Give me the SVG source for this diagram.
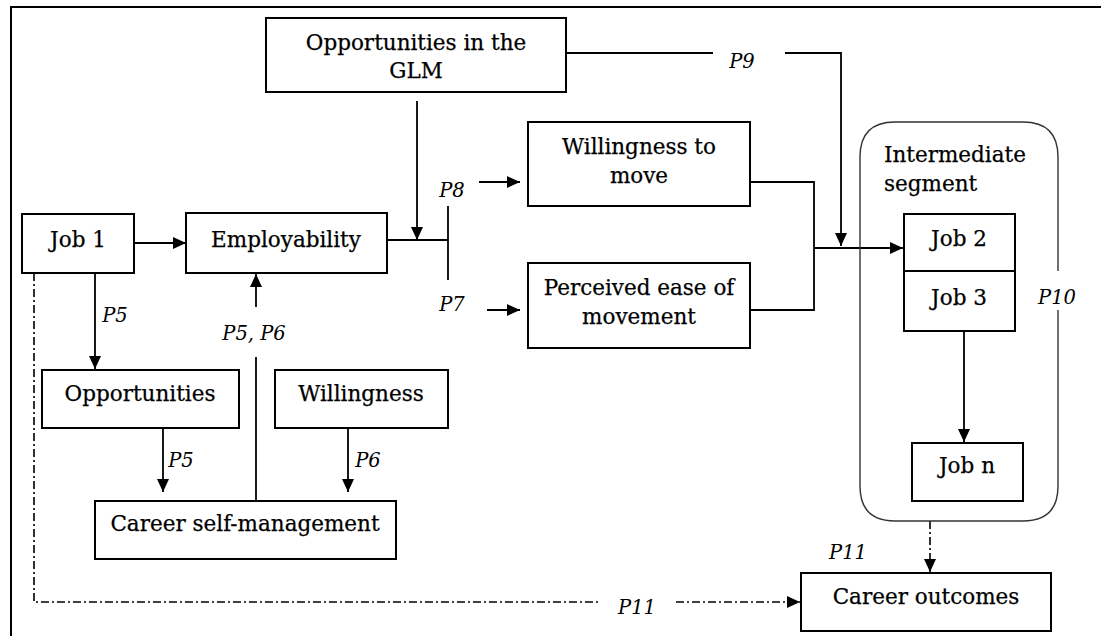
<svg xmlns="http://www.w3.org/2000/svg" width="1101" height="636" viewBox="0 0 1101 636">
<defs>
<marker id="ah" markerUnits="userSpaceOnUse" markerWidth="14" markerHeight="13" refX="13" refY="6.5" orient="auto">
<path d="M0,0.5 L13,6.5 L0,12.5 z" fill="#000"/>
</marker>
<style>
.box{fill:#fff;stroke:#000;stroke-width:2}
.t{font-family:"DejaVu Serif","Liberation Serif",serif;font-size:21.5px;fill:#000;text-anchor:middle;stroke:#000;stroke-width:0.25}
.l{font-family:"DejaVu Serif","Liberation Serif",serif;font-size:19.5px;font-style:italic;fill:#000;text-anchor:middle}
.c{fill:none;stroke:#000;stroke-width:1.8}
.a{marker-end:url(#ah)}
.dd{fill:none;stroke:#000;stroke-width:1.6;stroke-dasharray:8 3 2 3}
</style>
</defs>
<rect width="1101" height="636" fill="#fff"/>
<path d="M11,636 L11,7 L1101,7" fill="none" stroke="#000" stroke-width="2"/>

<g id="connectors">
<path class="c a" d="M134,243 L186,243"/>
<path class="c" d="M387,240 L448,240"/>
<path class="c" d="M448,206 L448,280"/>
<path class="c a" d="M417,101 L417,240"/>
<path class="c a" d="M479,182 L520,182"/>
<path class="c a" d="M487,310 L520,310"/>
<path class="c" d="M750,182 L814,182 L814,310 L750,310"/>
<path class="c a" d="M814,248 L903,248"/>
<path class="c" d="M566,53 L713,53"/>
<path class="c a" d="M785,53 L841,53 L841,246"/>
<path class="c a" d="M964,331 L964,442"/>
<path class="dd a" d="M930,521 L930,572"/>
<path class="dd" d="M34,273 L34,602 L600,602"/>
<path class="dd a" d="M676,602 L800,602"/>
<path class="c a" d="M95,273 L95,369"/>
<path class="c" d="M256,501 L256,357"/>
<path class="c a" d="M256,307 L256,274"/>
<path class="c a" d="M163,428 L163,492"/>
<path class="c a" d="M348,428 L348,492"/>
<text class="l" x="742" y="68">P9</text>
<text class="l" x="452" y="197">P8</text>
<text class="l" x="452" y="311">P7</text>
<text class="l" x="115" y="322">P5</text>
<text class="l" x="254" y="340">P5, P6</text>
<text class="l" x="181" y="467">P5</text>
<text class="l" x="368" y="467">P6</text>
<text class="l" x="1057" y="304">P10</text>
<text class="l" x="848" y="559">P11</text>
<text class="l" x="637" y="614">P11</text>
</g>

<g id="segment">
<path d="M1058,271 L1058,157 Q1058,122 1023,122 L895,122 Q860,122 860,157 L860,486 Q860,521 895,521 L1023,521 Q1058,521 1058,486 L1058,310" fill="none" stroke="#333" stroke-width="1.4"/>
<text class="t" x="884" y="162" style="text-anchor:start">Intermediate</text>
<text class="t" x="884" y="191" style="text-anchor:start">segment</text>
</g>

<g id="glm"><rect class="box" x="266" y="18" width="300" height="74"/>
<text class="t" x="416" y="50">Opportunities in the</text><text class="t" x="416" y="78">GLM</text></g>
<g id="job1"><rect class="box" x="22" y="214" width="112" height="59"/><text class="t" x="78" y="247">Job 1</text></g>
<g id="employability"><rect class="box" x="186" y="213" width="201" height="60"/><text class="t" x="286" y="247">Employability</text></g>
<g id="willmove"><rect class="box" x="528" y="122" width="222" height="84"/>
<text class="t" x="639" y="154">Willingness to</text><text class="t" x="639" y="183">move</text></g>
<g id="ease"><rect class="box" x="528" y="263" width="222" height="85"/>
<text class="t" x="639" y="295">Perceived ease of</text><text class="t" x="639" y="324">movement</text></g>
<g id="job2"><rect class="box" x="904" y="214" width="111" height="57"/><text class="t" x="959" y="246">Job 2</text></g>
<g id="job3"><rect class="box" x="904" y="271" width="111" height="60"/><text class="t" x="959" y="305">Job 3</text></g>
<g id="jobn"><rect class="box" x="912" y="443" width="111" height="58"/><text class="t" x="967" y="473">Job n</text></g>
<g id="outcomes"><rect class="box" x="801" y="573" width="250" height="58"/><text class="t" x="926" y="604">Career outcomes</text></g>
<g id="opps"><rect class="box" x="42" y="370" width="197" height="58"/><text class="t" x="140" y="401">Opportunities</text></g>
<g id="will"><rect class="box" x="275" y="370" width="173" height="58"/><text class="t" x="361" y="401">Willingness</text></g>
<g id="csm"><rect class="box" x="95" y="501" width="301" height="58"/><text class="t" x="245" y="531">Career self-management</text></g>
</svg>
